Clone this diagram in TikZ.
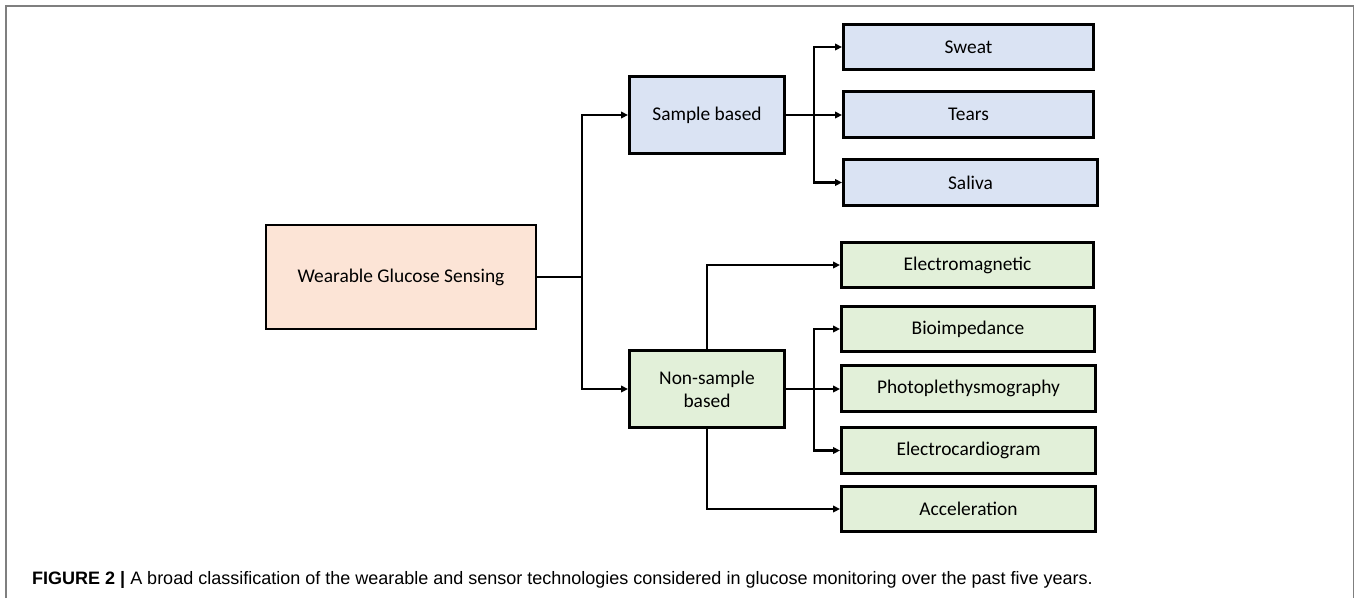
\documentclass[tikz,border=0pt]{standalone}
\usepackage{fontspec}
\setmainfont{Carlito}
\newfontfamily\capfont{Liberation Sans}
\usetikzlibrary{arrows.meta}
\definecolor{peach}{HTML}{FCE4D6}
\definecolor{paleblue}{HTML}{DAE3F3}
\definecolor{palegreen}{HTML}{E2F0D9}
\definecolor{framegray}{HTML}{7F7F7F}
\tikzset{
  box/.style={draw=black, line width=2.9pt, inner sep=2pt, align=center,
    font=\fontsize{19.4}{23}\selectfont},
  rootbox/.style={box, fill=peach, minimum width=270pt, minimum height=104pt},
  midbox/.style={box, minimum width=155pt, minimum height=77pt},
  leafbox/.style={box, minimum width=250pt, minimum height=45.5pt},
  conn/.style={line width=2.5pt, line join=miter},
  arr/.style={conn, -{Triangle[length=7pt,width=6.5pt]}},
}
\begin{document}
\begin{tikzpicture}[x=1pt, y=-1pt]
\useasboundingbox (0,0) rectangle (1356,598);
% outer frame
\draw[framegray, line width=1.6pt] (6,598) -- (6,6) -- (1353.5,6) -- (1353.5,598);

% root and the two families
\node[rootbox] (root) at (401,277) {Wearable Glucose Sensing};
\node[midbox, fill=paleblue] (sample) at (707,115) {Sample based};
\node[midbox, fill=palegreen] (nonsample) at (707,389) {Non-sample\\based};

% sample-based leaves
\node[leafbox, fill=paleblue] (sweat) at (968.5,47) {Sweat};
\node[leafbox, fill=paleblue] (tears) at (968.5,114.5) {Tears};
\node[leafbox, fill=paleblue, minimum width=254pt] (saliva) at (970.5,182.5) {Saliva};

% non-sample-based leaves
\node[leafbox, fill=palegreen, minimum width=252pt] (em) at (967.5,265) {Electromagnetic};
\node[leafbox, fill=palegreen, minimum width=253pt] (bio) at (968,329) {Bioimpedance};
\node[leafbox, fill=palegreen, minimum width=254pt] (ppg) at (968.5,388.5) {Photoplethysmography};
\node[leafbox, fill=palegreen, minimum width=254pt] (ecg) at (968.5,450.5) {Electrocardiogram};
\node[leafbox, fill=palegreen, minimum width=254pt] (acc) at (968.5,509) {Acceleration};

% junction points of the trees
\coordinate (j1) at (582,277);
\coordinate (j2) at (814,115);
\coordinate (j3) at (814,389);

% connectors
\draw[conn] (root.east) -- (j1);
\draw[arr] (j1) |- (sample.west);
\draw[arr] (j1) |- (nonsample.west);

\draw[conn] (sample.east) -- (j2);
\draw[arr] (j2) |- (sweat.west);
\draw[arr] (j2) -- (tears.west |- j2);
\draw[arr] (j2) |- (saliva.west);

\draw[conn] (nonsample.east) -- (j3);
\draw[arr] (j3) |- (bio.west);
\draw[arr] (j3) -- (ppg.west |- j3);
\draw[arr] (j3) |- (ecg.west);
\draw[arr] (nonsample.north) |- (em.west);
\draw[arr] (nonsample.south) |- (acc.west);

% caption
\node[anchor=base west, inner sep=0pt, font=\capfont\fontsize{18}{21}\selectfont] (cap) at (32,584)
  {\textbf{FIGURE 2 |} A broad classification of the wearable and sensor technologies considered in glucose monitoring over the past five years.};
\end{tikzpicture}
\end{document}
